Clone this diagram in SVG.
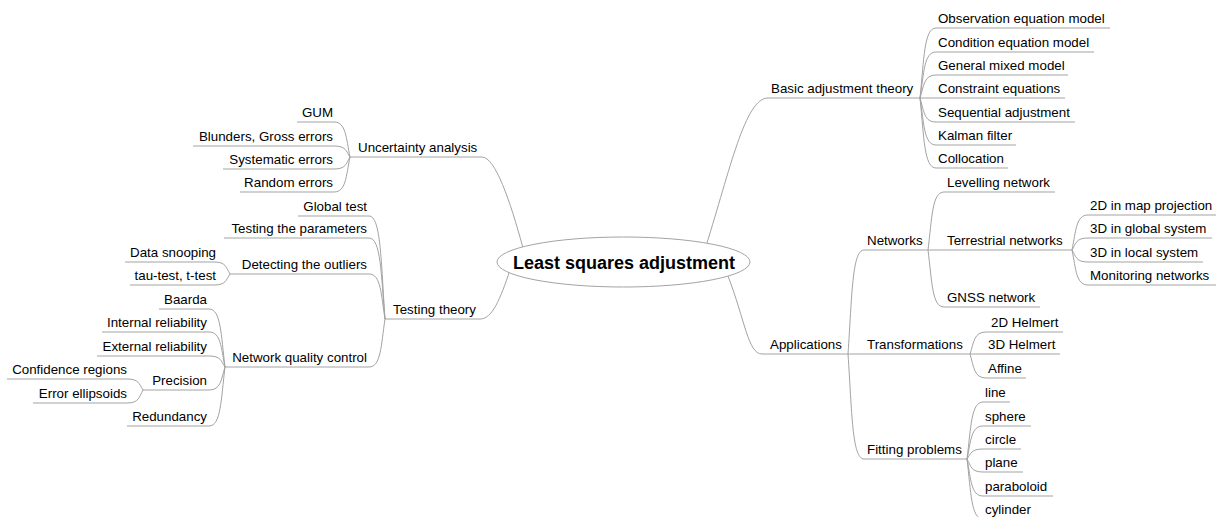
<svg xmlns="http://www.w3.org/2000/svg" width="1216" height="517" viewBox="0 0 1216 517">
<style>
.c{fill:none;stroke:#a3a3a3;stroke-width:1}
text{font-family:"Liberation Sans",Arial,sans-serif;font-size:13.33px;fill:#000}
.e{text-anchor:end}
.root{font-size:18px;font-weight:bold;text-anchor:middle}
</style>
<rect width="1216" height="517" fill="#fff"/>
<g id="connectors" class="c">
<path d="M350,157 L482,157 C495,157 510,200 523,248"/>
<path d="M350,157 C346,137.8 346,122 334,122 L297,122"/>
<path d="M350,157 C346,151 346,146 334,146 L193,146"/>
<path d="M350,157 C346,163.6 346,169 334,169 L223,169"/>
<path d="M350,157 C346,176.3 346,192 334,192 L240,192"/>
<path d="M385,319 L480,319 C492,319 500,300 510,270"/>
<path d="M385,319 C381,262.4 381,216 369,216 L298,216"/>
<path d="M385,319 C381,274.5 381,238 369,238 L224,238"/>
<path d="M385,319 C381,294.3 381,274 369,274 L230,274"/>
<path d="M385,319 C381,345.4 381,367 369,367 L225,367"/>
<path d="M230,274 C226,267.4 226,262 214,262 L125,262"/>
<path d="M230,274 C226,280 226,285 214,285 L130,285"/>
<path d="M225,367 C221,335.1 221,309 209,309 L159,309"/>
<path d="M225,367 C221,347.8 221,332 209,332 L102,332"/>
<path d="M225,367 C221,361 221,356 209,356 L97,356"/>
<path d="M225,367 C221,379.7 221,390 209,390 L143,390"/>
<path d="M225,367 C221,399.5 221,426 209,426 L127,426"/>
<path d="M143,390 C139,384 139,379 127,379 L7,379"/>
<path d="M143,390 C139,397.2 139,403 127,403 L33,403"/>
<path d="M706,246 C730,170 745,98 768,98 L920,98"/>
<path d="M920,98 C924,59.5 924,28 936,28 L1110,28"/>
<path d="M920,98 C924,72.7 924,52 936,52 L1094,52"/>
<path d="M920,98 C924,85.4 924,75 936,75 L1068,75"/>
<path d="M920,98 L1065,98"/>
<path d="M920,98 C924,111.2 924,122 936,122 L1075,122"/>
<path d="M920,98 C924,123.9 924,145 936,145 L1016,145"/>
<path d="M920,98 C924,136.5 924,168 936,168 L1008,168"/>
<path d="M728,276 C745,320 748,354 762,354 L970,354"/>
<path d="M848,354 C852,296.8 852,250 864,250 L1072,250"/>
<path d="M848,354 C852,411.8 852,459 864,459 L967,459"/>
<path d="M928,250 C932,218.1 932,192 944,192 L1055,192"/>
<path d="M928,250 C932,281.4 932,307 944,307 L1040,307"/>
<path d="M1072,250 C1076,230.8 1076,215 1088,215 L1216,215"/>
<path d="M1072,250 C1076,243.4 1076,238 1088,238 L1212,238"/>
<path d="M1072,250 C1076,256.6 1076,262 1088,262 L1203,262"/>
<path d="M1072,250 C1076,269.3 1076,285 1088,285 L1216,285"/>
<path d="M970,354 C974,341.9 974,332 986,332 L1063,332"/>
<path d="M970,354 L1060,354"/>
<path d="M970,354 C974,367.2 974,378 986,378 L1026,378"/>
<path d="M967,459 C971,427.7 971,402 983,402 L1010,402"/>
<path d="M967,459 C971,440.9 971,426 983,426 L1031,426"/>
<path d="M967,459 C971,453.5 971,449 983,449 L1021,449"/>
<path d="M967,459 C971,466.2 971,472 983,472 L1023,472"/>
<path d="M967,459 C971,479.4 971,496 983,496 L1053,496"/>
<path d="M967,459 C971,492 971,519 983,519 L1037,519"/>
</g>
<g id="root">
<ellipse cx="623.5" cy="262" rx="126.5" ry="25" fill="#fff" stroke="#a3a3a3" stroke-width="1"/>
<text class="root" x="624" y="269">Least squares adjustment</text>
</g>
<g id="uncertainty"><text x="358" y="152">Uncertainty analysis</text></g>
<g id="gum"><text class="e" x="333" y="117">GUM</text></g>
<g id="blunders"><text class="e" x="333" y="141">Blunders, Gross errors</text></g>
<g id="systematic"><text class="e" x="333" y="164">Systematic errors</text></g>
<g id="random"><text class="e" x="333" y="187">Random errors</text></g>
<g id="testing"><text x="393" y="314">Testing theory</text></g>
<g id="global"><text class="e" x="367" y="211">Global test</text></g>
<g id="params"><text class="e" x="367" y="233">Testing the parameters</text></g>
<g id="outliers"><text class="e" x="367" y="269">Detecting the outliers</text></g>
<g id="nqc"><text class="e" x="367" y="362">Network quality control</text></g>
<g id="snooping"><text class="e" x="216" y="257">Data snooping</text></g>
<g id="tau"><text class="e" x="216" y="280">tau-test, t-test</text></g>
<g id="baarda"><text class="e" x="207" y="304">Baarda</text></g>
<g id="internal"><text class="e" x="207" y="327">Internal reliability</text></g>
<g id="external"><text class="e" x="207" y="351">External reliability</text></g>
<g id="precision"><text class="e" x="207" y="385">Precision</text></g>
<g id="redundancy"><text class="e" x="207" y="421">Redundancy</text></g>
<g id="confidence"><text class="e" x="127" y="374">Confidence regions</text></g>
<g id="ellipsoids"><text class="e" x="127" y="398">Error ellipsoids</text></g>
<g id="basic"><text x="771" y="93">Basic adjustment theory</text></g>
<g id="obs"><text x="938" y="23">Observation equation model</text></g>
<g id="cond"><text x="938" y="47">Condition equation model</text></g>
<g id="mixed"><text x="938" y="70">General mixed model</text></g>
<g id="constraint"><text x="938" y="93">Constraint equations</text></g>
<g id="sequential"><text x="938" y="117">Sequential adjustment</text></g>
<g id="kalman"><text x="938" y="140">Kalman filter</text></g>
<g id="collocation"><text x="938" y="163">Collocation</text></g>
<g id="applications"><text x="770" y="349">Applications</text></g>
<g id="networks"><text x="867" y="245">Networks</text></g>
<g id="levelling"><text x="947" y="187">Levelling network</text></g>
<g id="terrestrial"><text x="947" y="245">Terrestrial networks</text></g>
<g id="gnss"><text x="947" y="302">GNSS network</text></g>
<g id="map2d"><text x="1090" y="210">2D in map projection</text></g>
<g id="global3d"><text x="1090" y="233">3D in global system</text></g>
<g id="local3d"><text x="1090" y="257">3D in local system</text></g>
<g id="monitoring"><text x="1090" y="280">Monitoring networks</text></g>
<g id="transformations"><text x="867" y="349">Transformations</text></g>
<g id="helmert2d"><text x="991" y="327">2D Helmert</text></g>
<g id="helmert3d"><text x="988" y="349">3D Helmert</text></g>
<g id="affine"><text x="988" y="373">Affine</text></g>
<g id="fitting"><text x="867" y="454">Fitting problems</text></g>
<g id="line"><text x="985" y="397">line</text></g>
<g id="sphere"><text x="985" y="421">sphere</text></g>
<g id="circle"><text x="985" y="444">circle</text></g>
<g id="plane"><text x="985" y="467">plane</text></g>
<g id="paraboloid"><text x="985" y="491">paraboloid</text></g>
<g id="cylinder"><text x="985" y="514">cylinder</text></g>
</svg>
